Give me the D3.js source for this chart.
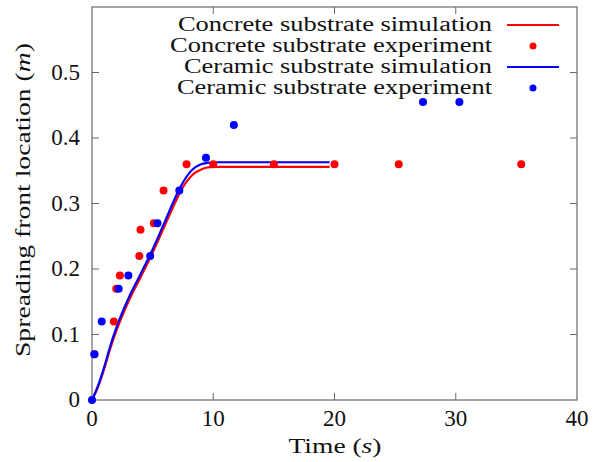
<!DOCTYPE html>
<html>
<head>
<meta charset="utf-8">
<script src="https://cdn.jsdelivr.net/npm/d3@7"></script>
<style>
  body { margin: 0; background: #fff; }
  text { font-family: "Liberation Serif", "DejaVu Serif", serif; fill: #111; }
</style>
</head>
<body>
<svg id="chart" width="594" height="462"></svg>
<script>
// simulation curves
const simTime = [0, 0.5, 1, 1.5, 2, 3, 4, 5, 6, 7, 7.5, 8, 8.5, 9, 9.5, 10, 11, 12, 15, 19.6];
const concreteSim = [0, 0.02, 0.047, 0.078, 0.105, 0.15, 0.187, 0.225, 0.266, 0.307, 0.325, 0.338, 0.347, 0.352, 0.355, 0.356, 0.356, 0.356, 0.356, 0.356];
const ceramicSim = [0, 0.022, 0.05, 0.082, 0.11, 0.155, 0.192, 0.23, 0.272, 0.314, 0.332, 0.346, 0.355, 0.36, 0.362, 0.363, 0.363, 0.363, 0.363, 0.363];

// experiments
const concreteExpT = [0.2, 1.8, 2, 2.3, 3.9, 4, 5.1, 5.9, 7.8, 10, 15, 20, 25.3, 35.4];
const concreteExpY = [0.07, 0.12, 0.17, 0.19, 0.22, 0.26, 0.27, 0.32, 0.36, 0.36, 0.36, 0.36, 0.36, 0.36];
const ceramicExpT = [0, 0.2, 0.8, 2.2, 3, 4.8, 5.4, 7.2, 9.4, 11.7, 27.3, 30.3];
const ceramicExpY = [0, 0.07, 0.12, 0.17, 0.19, 0.22, 0.27, 0.32, 0.37, 0.42, 0.455, 0.455];

const xTicks = [0, 10, 20, 30, 40];
const yTicks = [0, 0.1, 0.2, 0.3, 0.4, 0.5];

const legendItems = [
  { label: "Concrete substrate simulation", color: "#ff0000", kind: "line", w: 314 },
  { label: "Concrete substrate experiment", color: "#ff0000", kind: "dot", w: 322 },
  { label: "Ceramic substrate simulation", color: "#0000ff", kind: "line", w: 308 },
  { label: "Ceramic substrate experiment", color: "#0000ff", kind: "dot", w: 315 }
];

const svg = d3.select("#chart");
const mLeft = 92, mRight = 577, mTop = 7, mBottom = 400;

const x = d3.scaleLinear().domain([0, 40]).range([mLeft, mRight]);
const y = d3.scaleLinear().domain([0, 0.6]).range([mBottom, mTop]);

const axisColor = "#6a6a6a";
const tickLen = 7;

// frame
svg.append("rect")
  .attr("x", mLeft).attr("y", mTop)
  .attr("width", mRight - mLeft).attr("height", mBottom - mTop)
  .attr("fill", "none").attr("stroke", axisColor).attr("stroke-width", 1.2);

// inward ticks on all four sides
const g = svg.append("g");
xTicks.slice(1, -1).forEach(t => {
  g.append("line").attr("x1", x(t)).attr("x2", x(t)).attr("y1", mBottom).attr("y2", mBottom - tickLen)
    .attr("stroke", axisColor);
  g.append("line").attr("x1", x(t)).attr("x2", x(t)).attr("y1", mTop).attr("y2", mTop + tickLen)
    .attr("stroke", axisColor);
});
yTicks.slice(1).forEach(t => {
  g.append("line").attr("x1", mLeft).attr("x2", mLeft + tickLen).attr("y1", y(t)).attr("y2", y(t))
    .attr("stroke", axisColor);
  g.append("line").attr("x1", mRight).attr("x2", mRight - tickLen).attr("y1", y(t)).attr("y2", y(t))
    .attr("stroke", axisColor);
});

// tick labels
svg.selectAll(".xl").data(xTicks).join("text")
  .attr("x", d => x(d)).attr("y", mBottom + 26)
  .attr("text-anchor", "middle").attr("font-size", 23)
  .text(d => d);
svg.selectAll(".yl").data(yTicks).join("text")
  .attr("x", mLeft - 12).attr("y", d => y(d) + 7)
  .attr("text-anchor", "end").attr("font-size", 23)
  .text(d => d);

// axis titles
const xt = svg.append("text").attr("x", (mLeft + mRight) / 2 - 46).attr("y", 453)
  .attr("font-size", 22).attr("textLength", 93).attr("lengthAdjust", "spacingAndGlyphs");
xt.append("tspan").text("Time (");
xt.append("tspan").attr("font-style", "italic").text("s");
xt.append("tspan").text(")");

const yt = svg.append("text")
  .attr("transform", `translate(30,357) rotate(-90)`)
  .attr("font-size", 22).attr("textLength", 314).attr("lengthAdjust", "spacingAndGlyphs");
yt.append("tspan").text("Spreading front location (");
yt.append("tspan").attr("font-style", "italic").text("m");
yt.append("tspan").text(")");

// simulation lines
const line = d3.line().x(d => x(d[0])).y(d => y(d[1])).curve(d3.curveMonotoneX);
svg.append("path").datum(d3.zip(simTime, concreteSim))
  .attr("d", line).attr("fill", "none").attr("stroke", "#ff0000").attr("stroke-width", 2.2);
svg.append("path").datum(d3.zip(simTime, ceramicSim))
  .attr("d", line).attr("fill", "none").attr("stroke", "#0000ff").attr("stroke-width", 2.2);

// experiment points
svg.append("g").selectAll("circle").data(d3.zip(concreteExpT, concreteExpY)).join("circle")
  .attr("cx", d => x(d[0])).attr("cy", d => y(d[1])).attr("r", 4).attr("fill", "#ff0000");
svg.append("g").selectAll("circle").data(d3.zip(ceramicExpT, ceramicExpY)).join("circle")
  .attr("cx", d => x(d[0])).attr("cy", d => y(d[1])).attr("r", 4).attr("fill", "#0000ff");

// legend
const leg = svg.append("g");
legendItems.forEach((d, i) => {
  const cy = 25 + i * 21;
  leg.append("text").attr("x", 492 - d.w).attr("y", cy + 6)
    .attr("font-size", 20).attr("textLength", d.w).attr("lengthAdjust", "spacingAndGlyphs")
    .text(d.label);
  if (d.kind === "line") {
    leg.append("line").attr("x1", 507).attr("x2", 559).attr("y1", cy).attr("y2", cy)
      .attr("stroke", d.color).attr("stroke-width", 2.2);
  } else {
    leg.append("circle").attr("cx", 533).attr("cy", cy).attr("r", 3.5).attr("fill", d.color);
  }
});
</script>
</body>
</html>
